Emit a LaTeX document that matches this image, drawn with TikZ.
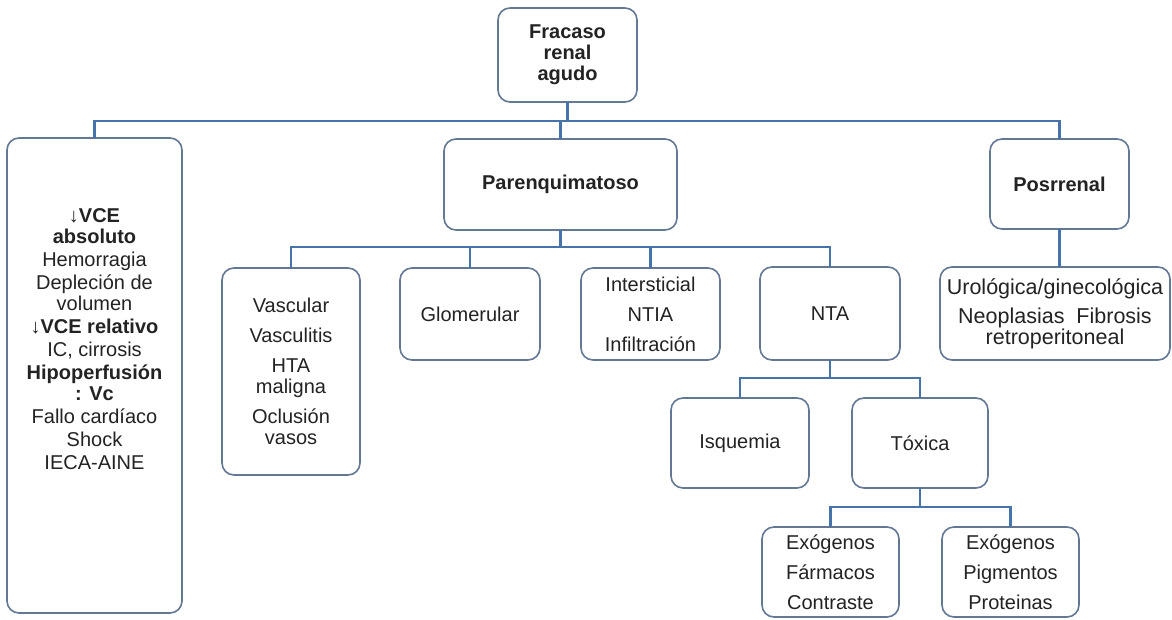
\documentclass[tikz,border=0pt]{standalone}
\usepackage{fontspec}
\setmainfont{Liberation Sans}
\definecolor{linec}{RGB}{70,115,170}
\definecolor{boxc}{RGB}{100,120,148}
\definecolor{txt}{RGB}{35,35,35}
\begin{document}
\begin{tikzpicture}[x=1pt,y=-1pt,
  box/.style={draw=boxc,line width=1.6pt,rounded corners=12pt,fill=white,
    inner sep=0pt,outer sep=0pt,align=center,text=txt,
    font=\fontsize{20}{21}\selectfont},
  conn/.style={draw=linec,line width=2.2pt},
  plain/.style={inner sep=0pt,align=center,text=txt,font=\fontsize{20}{21}\selectfont}]
\useasboundingbox[fill=white] (0,0) rectangle (1172,619);
% nodes
\node[box,minimum width=139pt,minimum height=94pt] (top) at (567.5,55) {\bfseries Fracaso\\\bfseries renal\\\bfseries agudo};
\node[box,minimum width=175pt,minimum height=475pt] (L) at (94.5,375.5) {};
\node[plain] (Ltext) at (94.5,339) {{\mdseries↓}\textbf{VCE}\\\bfseries absoluto\\[2pt]
 Hemorragia\\[2pt]
 Depleción de\\volumen\\[2pt]
 {\mdseries↓}\textbf{VCE relativo}\\[2pt]
 IC, cirrosis\\[2pt]
 \bfseries Hipoperfusión\\\bfseries : Vc\\[2pt]
 Fallo cardíaco\\[2pt]
 Shock\\[2pt]
 IECA-AINE};
\node[box,minimum width=233pt,minimum height=91pt] (P) at (560.5,184.5) {\bfseries Parenquimatoso};
\node[box,minimum width=139pt,minimum height=90pt] (R) at (1059.5,184) {\raisebox{-4pt}{\bfseries Posrrenal}};
\node[box,minimum width=138pt,minimum height=207pt] (V) at (291,371.5) {Vascular\\[9pt]Vasculitis\\[9pt]HTA\\maligna\\[9pt]Oclusión\\vasos};
\node[box,minimum width=140pt,minimum height=92pt] (G) at (470,314) {Glomerular};
\node[box,minimum width=139pt,minimum height=92pt] (I) at (650.5,314) {Intersticial\\[9pt]NTIA\\[9pt]Infiltración};
\node[box,minimum width=140pt,minimum height=93pt] (N) at (830,313.5) {NTA};
\node[box,minimum width=230pt,minimum height=93pt,font=\fontsize{21.5}{21}\selectfont] (U) at (1055,313.5) {Urológica/ginecológica\\[8pt]Neoplasias~ Fibrosis\\retroperitoneal};
\node[box,minimum width=138pt,minimum height=90pt] (Q) at (740,443) {Isquemia};
\node[box,minimum width=136pt,minimum height=90pt] (T) at (920,443) {Tóxica};
\node[box,minimum width=137pt,minimum height=90pt] (E1) at (830.5,572) {Exógenos\\[9pt]Fármacos\\[9pt]Contraste};
\node[box,minimum width=137pt,minimum height=90pt] (E2) at (1010.5,572) {Exógenos\\[9pt]Pigmentos\\[9pt]Proteinas};
% bus coordinates
\coordinate (b1) at (0,121);
\coordinate (b2) at (0,247);
\coordinate (b3) at (0,378);
\coordinate (b4) at (0,507);
% connectors
\draw[conn] (top.south) -- (top.south |- b1);
\draw[conn] (L.north) -- (L.north |- b1) -- (R.north |- b1) -- (R.north);
\draw[conn] (P.north) -- (P.north |- b1);
\draw[conn] (P.south) -- (P.south |- b2);
\draw[conn] (V.north) -- (V.north |- b2) -- (N.north |- b2) -- (N.north);
\draw[conn] (G.north) -- (G.north |- b2);
\draw[conn] (I.north) -- (I.north |- b2);
\draw[conn] (R.south) -- (R.south |- U.north);
\draw[conn] (N.south) -- (N.south |- b3);
\draw[conn] (Q.north) -- (Q.north |- b3) -- (T.north |- b3) -- (T.north);
\draw[conn] (T.south) -- (T.south |- b4);
\draw[conn] (E1.north) -- (E1.north |- b4) -- (E2.north |- b4) -- (E2.north);
\end{tikzpicture}
\end{document}
